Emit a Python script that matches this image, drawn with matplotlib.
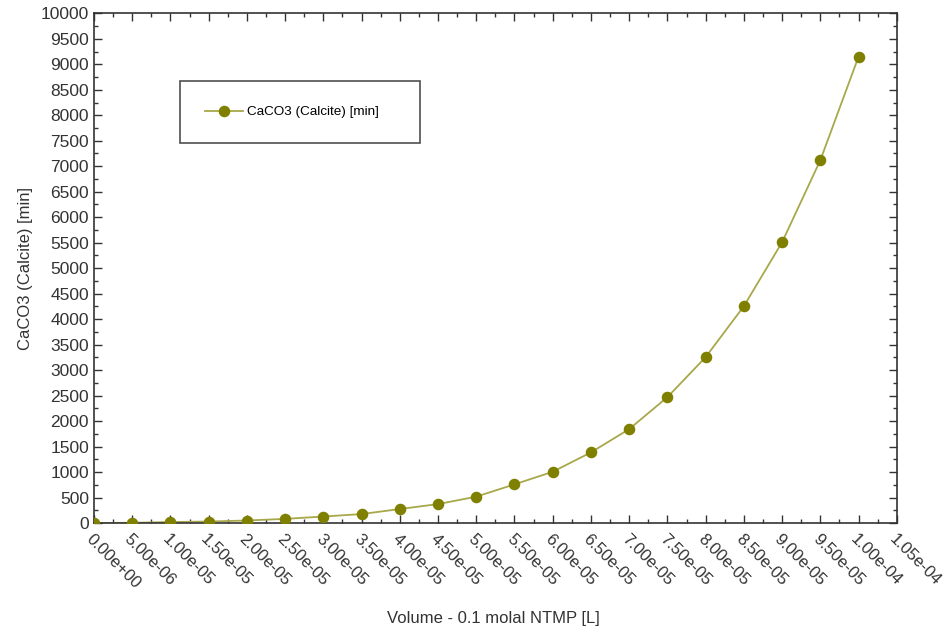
import matplotlib.pyplot as plt
from matplotlib.ticker import MultipleLocator

plt.rcParams['font.family'] = ['Liberation Sans', 'DejaVu Sans']

volume = [0.0, 5e-6, 1e-5, 1.5e-5, 2e-5, 2.5e-5, 3e-5, 3.5e-5, 4e-5, 4.5e-5, 5e-5,
          5.5e-5, 6e-5, 6.5e-5, 7e-5, 7.5e-5, 8e-5, 8.5e-5, 9e-5, 9.5e-5, 1e-4]
calcite = [0, 5, 20, 30, 50, 82, 128, 176, 275, 372, 518,
           759, 1006, 1386, 1843, 2470, 3255, 4255, 5510, 7118, 9150]

fig = plt.figure(figsize=(9.49, 6.34), dpi=100)
ax = fig.add_axes([0.099, 0.175, 0.846, 0.804])

ax.plot(volume, calcite, '-', color='#a8a84a', lw=1.3, zorder=2)
ax.plot(volume, calcite, 'o', color='#7f7f00', ms=7.3, zorder=3)
# legend handle combining line and marker
h, = ax.plot([], [], '-o', color='#a8a84a', mfc='#7f7f00', mec='#7f7f00', ms=7.3, lw=1.3)

ax.set_xlim(0, 1.05e-4)
ax.set_ylim(0, 10000)
ax.xaxis.set_minor_locator(MultipleLocator(2.5e-6))
ax.yaxis.set_major_locator(MultipleLocator(500))
ax.yaxis.set_minor_locator(MultipleLocator(250))

xt = [i * 5e-6 for i in range(22)]
ax.set_xticks(xt)
ax.set_xticklabels([f"{v:.2e}" for v in xt], rotation=-45, ha='left', va='top',
                   rotation_mode='anchor', fontsize=12)

ax.tick_params(which='both', direction='in', top=True, right=True, colors='#333333',
               labelcolor='#333333')
ax.tick_params(axis='y', labelsize=12.5)
ax.tick_params(which='major', length=6, width=1)
ax.tick_params(which='minor', length=3, width=1)
ax.tick_params(axis='x', pad=6)
for s in ax.spines.values():
    s.set_color('#333333')
    s.set_linewidth(1.2)

ax.set_xlabel('Volume - 0.1 molal NTMP [L]', fontsize=12, color='#333333')
ax.xaxis.set_label_coords(0.498, -0.172)
ax.set_ylabel('CaCO3 (Calcite) [min]', fontsize=12, color='#333333', labelpad=6)

leg = ax.legend([h], ['CaCO3 (Calcite) [min]'], loc='upper left',
                bbox_to_anchor=(0.107, 0.741, 0.299, 0.126), mode='expand',
                borderaxespad=0, fancybox=False, frameon=True, fontsize=9.7,
                borderpad=1.85, handlelength=2.8, handletextpad=0.3)
leg.get_frame().set_edgecolor('#222222')
leg.get_frame().set_linewidth(1.2)

fig.savefig('out.png', dpi=100)
